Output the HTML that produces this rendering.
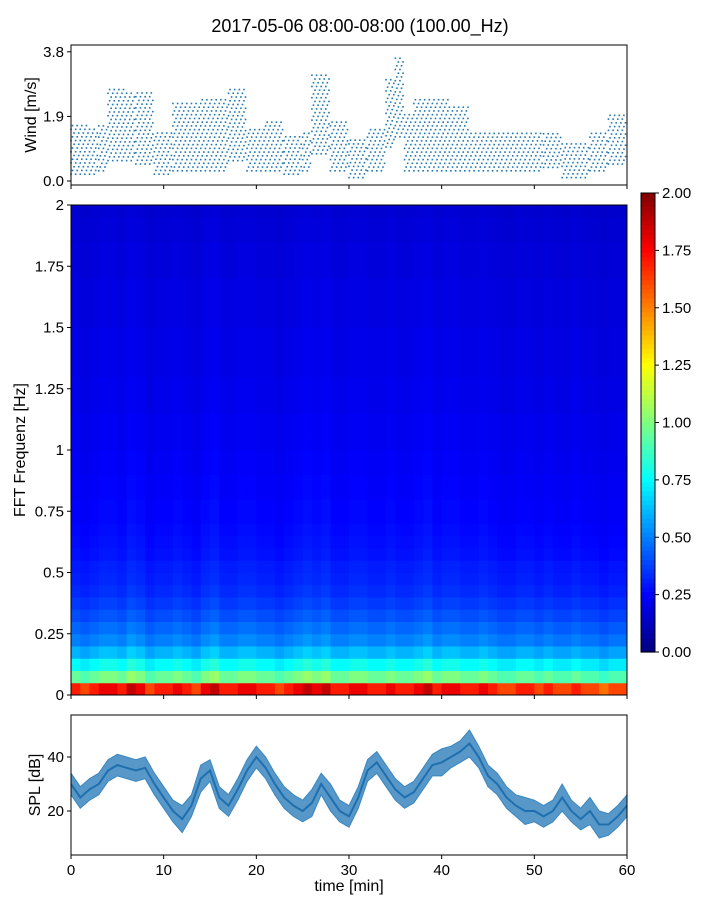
<!DOCTYPE html>
<html><head><meta charset="utf-8">
<style>
body{margin:0;background:#fff;}
svg{display:block;font-family:"Liberation Sans","DejaVu Sans",sans-serif;}
text{fill:#000;}
</style></head>
<body>
<svg id="fig" width="720" height="900">
<text x="360" y="32" text-anchor="middle" font-size="18">2017-05-06 08:00-08:00 (100.00_Hz)</text>
<g id="wind"></g>
<g id="spec"></g>
<g id="cbar"></g>
<g id="spl"></g>
</svg>
<script>
// ---- data ----
const timeTicks=[0,10,20,30,40,50,60];
const windTicks=[0.0,1.9,3.8];
const windTickLabels=["0.0","1.9","3.8"];
const windLo=[0.2,0.2,0.2,0.3,0.6,0.6,0.6,0.5,0.5,0.2,0.2,0.3,0.3,0.3,0.3,0.3,0.3,0.6,0.6,0.3,0.3,0.3,0.3,0.2,0.2,0.3,0.8,0.8,0.3,0.3,0.1,0.1,0.3,0.3,1.0,1.3,0.3,0.3,0.3,0.3,0.3,0.3,0.3,0.3,0.3,0.3,0.3,0.3,0.3,0.3,0.3,0.4,0.4,0.1,0.1,0.1,0.3,0.3,0.5,0.5];
const windHi=[1.7,1.7,1.6,1.7,2.8,2.8,2.6,2.6,2.6,1.5,1.5,2.3,2.3,2.3,2.5,2.5,2.5,2.7,2.7,1.6,1.6,1.8,1.8,1.3,1.3,1.5,3.2,3.2,1.8,1.8,1.3,1.3,1.6,1.6,3.0,3.7,2.0,2.5,2.5,2.5,2.5,2.2,2.2,1.5,1.5,1.5,1.5,1.5,1.5,1.5,1.5,1.5,1.5,1.2,1.2,1.2,1.5,1.5,2.0,2.0];
const freqTicks=[0,0.25,0.5,0.75,1,1.25,1.5,1.75,2];
const freqTickLabels=["0","0.25","0.5","0.75","1","1.25","1.5","1.75","2"];
const freqProfile=[1.7,0.95,0.75,0.6,0.5,0.45,0.4,0.36,0.33,0.31,0.3,0.28,0.27,0.26,0.25,0.25,0.24,0.24,0.23,0.23,0.22,0.22,0.22,0.21,0.21,0.21,0.2,0.2,0.2,0.2,0.19,0.19,0.19,0.19,0.18,0.18,0.18,0.17,0.17,0.16];
const timeProfile=[1.0,0.95,1.0,1.05,1.05,1.0,1.1,1.05,0.95,1.0,1.0,1.05,1.0,0.95,1.05,1.1,1.0,1.0,1.05,1.05,1.0,1.0,0.95,1.0,1.05,1.1,1.05,1.1,1.0,1.0,1.05,1.05,1.0,1.0,1.05,1.0,1.0,1.05,1.1,1.0,1.05,1.05,1.0,1.0,1.05,1.0,0.95,0.95,1.0,1.0,0.95,1.0,0.95,0.95,1.0,0.95,0.95,0.9,0.95,0.95];
const cbTicks=[0,0.25,0.5,0.75,1,1.25,1.5,1.75,2];
const cbTickLabels=["0.00","0.25","0.50","0.75","1.00","1.25","1.50","1.75","2.00"];
const splTicks=[20,40];
const splMid=[30,25,28,30,35,37,36,35,36,30,25,20,17,22,32,35,25,22,28,35,40,36,30,25,22,20,23,30,25,20,18,25,35,38,33,28,25,27,32,37,38,40,42,45,40,33,30,25,22,20,20,18,20,25,20,17,20,15,15,18,22];
const splHalf=[4,4,4,4,4,4,4,4,4,4,4,4,5,4,5,4,4,4,4,4,4,4,4,4,4,4,5,4,5,4,4,4,4,4,4,4,4,4,4,4,5,4,4,5,4,4,4,4,4,5,4,4,4,5,4,4,5,5,4,4,4];
// ---- helpers ----
const NS="http://www.w3.org/2000/svg";
function mk(p,t,a,txt){const e=document.createElementNS(NS,t);for(const k in a)e.setAttribute(k,a[k]);if(txt!==undefined)e.textContent=txt;p.appendChild(e);return e;}
const X0=71,X1=627;
const xT=t=>X0+(X1-X0)*t/60;
function jet(v){v=Math.max(0,Math.min(1,v));
 const r=Math.max(0,Math.min(1,1.5-Math.abs(4*v-3))),g=Math.max(0,Math.min(1,1.5-Math.abs(4*v-2))),b=Math.max(0,Math.min(1,1.5-Math.abs(4*v-1)));
 return `rgb(${Math.round(r*255)},${Math.round(g*255)},${Math.round(b*255)})`;}
function xAxis(g,y0,labels){timeTicks.forEach(t=>{
 const tk=mk(g,'line',{x1:xT(t),x2:xT(t),y1:y0,y2:y0+4,stroke:'#000'});
 
 if(labels){const l=mk(g,'text',{x:xT(t),y:y0+20,'text-anchor':'middle','font-size':15},String(t));
 }});}
// ---- wind ----
(function(){const g=document.getElementById('wind');const Y0=181,S=34;const y=v=>Y0-v*S;
 windLo.forEach((lo,i)=>{const hi=windHi[i];
  for(let s=0;s<6;s++){const x=xT(i+s/6);
   for(let v=lo+(s%3)*0.11;v<=hi;v+=0.33){const d=mk(g,'rect',{x:x-0.8,y:y(v)-0.8,width:1.6,height:1.6,fill:'#1f77b4'});
    }}});
 mk(g,'rect',{x:X0,y:45,width:X1-X0,height:140,fill:'none',stroke:'#000'});
 windTicks.forEach((v,i)=>{mk(g,'line',{x1:X0-4,x2:X0,y1:y(v),y2:y(v),stroke:'#000'});
  const l=mk(g,'text',{x:X0-7,y:y(v)+5,'text-anchor':'end','font-size':15},windTickLabels[i]);
  });
 xAxis(g,185,false);
 const t=mk(g,'text',{transform:'translate(36,115) rotate(-90)','text-anchor':'middle','font-size':16},'Wind [m/s]');
 })();
// ---- spectrogram ----
(function(){const g=document.getElementById('spec');const YT=205,YB=695;const yF=f=>YB-(YB-YT)*f/2;
 const df=2/freqProfile.length;
 freqProfile.forEach((fv,r)=>{timeProfile.forEach((tv,c)=>{
  const c1=mk(g,'rect',{x:xT(c),y:yF((r+1)*df),width:xT(c+1)-xT(c)+0.5,height:yF(r*df)-yF((r+1)*df)+0.5,fill:jet(fv*tv/2)});
  });});
 mk(g,'rect',{x:X0,y:YT,width:X1-X0,height:YB-YT,fill:'none',stroke:'#000'});
 freqTicks.forEach((f,i)=>{mk(g,'line',{x1:X0-4,x2:X0,y1:yF(f),y2:yF(f),stroke:'#000'});
  const l=mk(g,'text',{x:X0-7,y:yF(f)+5,'text-anchor':'end','font-size':15},freqTickLabels[i]);
  });
 xAxis(g,YB,false);
 const t=mk(g,'text',{transform:'translate(25,450) rotate(-90)','text-anchor':'middle','font-size':16},'FFT Frequenz [Hz]');
 })();
// ---- colorbar ----
(function(){const g=document.getElementById('cbar');const YT=193,YB=652,XL=641,W=14;const y=v=>YB-(YB-YT)*v/2;
 for(let i=0;i<100;i++){const s=mk(g,'rect',{x:XL,y:YT+(YB-YT)*i/100,width:W,height:(YB-YT)/100+0.6,fill:jet(1-(i+0.5)/100)});
  }
 mk(g,'rect',{x:XL,y:YT,width:W,height:YB-YT,fill:'none',stroke:'#000'});
 cbTicks.forEach((v,i)=>{mk(g,'line',{x1:XL+W,x2:XL+W+4,y1:y(v),y2:y(v),stroke:'#000'});
  const l=mk(g,'text',{x:XL+W+7,y:y(v)+5,'font-size':15},cbTickLabels[i]);
  });})();
// ---- SPL ----
(function(){const g=document.getElementById('spl');const y=v=>865-2.7*v;
 let top=[],bot=[];splMid.forEach((m,i)=>{top.push(xT(i)+','+y(m+splHalf[i]));bot.unshift(xT(i)+','+y(m-splHalf[i]));});
 const p=mk(g,'polygon',{points:top.concat(bot).join(' '),fill:'#3a86bf',stroke:'#3a86bf','stroke-width':1,'fill-opacity':0.85});
 
 const ln=mk(g,'polyline',{points:splMid.map((m,i)=>xT(i)+','+y(m)).join(' '),fill:'none',stroke:'#1f6fae','stroke-width':2});
 
 mk(g,'rect',{x:X0,y:715,width:X1-X0,height:140,fill:'none',stroke:'#000'});
 splTicks.forEach(v=>{mk(g,'line',{x1:X0-4,x2:X0,y1:y(v),y2:y(v),stroke:'#000'});
  const l=mk(g,'text',{x:X0-7,y:y(v)+5,'text-anchor':'end','font-size':15},String(v));
  });
 xAxis(g,855,true);
 const t=mk(g,'text',{transform:'translate(40,785) rotate(-90)','text-anchor':'middle','font-size':16},'SPL [dB]');
 
 const xt=mk(g,'text',{x:349,y:891,'text-anchor':'middle','font-size':16},'time [min]');
 })();
</script>
</body></html>
